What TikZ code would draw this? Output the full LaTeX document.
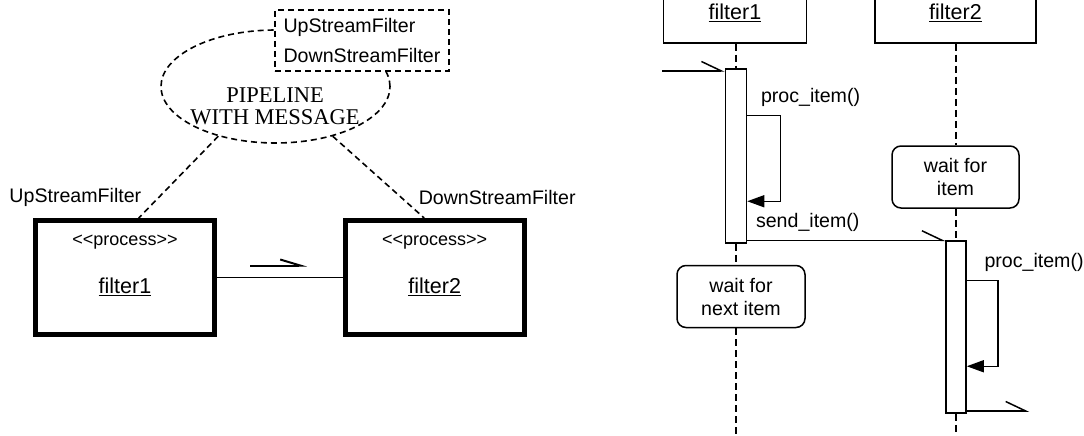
\documentclass[tikz,border=0pt]{standalone}
\usepackage{fontspec}
\setmainfont{Liberation Sans}
\newfontfamily\romanface{Liberation Serif}
\usetikzlibrary{positioning, calc, arrows.meta, shapes.geometric}

\newcommand\stereotype[1]{<\kern0pt<#1>\kern0pt>}

\tikzset{
  txt/.style={inner sep=0pt, font=\fontsize{19.6}{23}\selectfont},
  stereo/.style={inner sep=0pt, font=\fontsize{18}{20}\selectfont},
  objname/.style={inner sep=0pt, font=\fontsize{21.5}{24}\selectfont},
  dashline/.style={dash pattern=on 6pt off 4pt, line width=1.6pt},
  pipeline/.style={ellipse, draw, dashline, minimum width=229pt, minimum height=113pt},
  tagbox/.style={draw, dashline, fill=white, align=left, minimum width=174pt,
    minimum height=61pt, inner sep=0pt, font=\fontsize{19.6}{30}\selectfont},
  proc/.style={draw, line width=5pt, minimum width=179pt, minimum height=114pt},
  head/.style={draw, fill=white, minimum width=143pt, minimum height=60pt, objname},
  bar/.style={draw, fill=white, minimum width=21pt, minimum height=174pt, inner sep=0pt},
  waitbox/.style={draw, rounded corners=9pt, fill=white, align=center,
    minimum width=127pt, minimum height=62pt, txt},
  lifeline/.style={dash pattern=on 7pt off 4pt},
  msg/.style={-{Straight Barb[left, length=20pt, width=19pt]}},
  selfcall/.style={-{Triangle[length=17pt, width=12pt]}}
}

\begin{document}
\begin{tikzpicture}[x=1pt, y=-1pt, line width=1.5pt]
  \useasboundingbox (0,0) rectangle (1084,436);

  % collaboration
  \node[pipeline] (pipe) at (275.5,86.5) {};
  \node[align=center, inner sep=0pt, font=\romanface\fontsize{22.5}{22}\selectfont]
    (pipetxt) at (275,106) {PIPELINE\\WITH MESSAGE};
  \node[tagbox] (tags) at (362,40.5) {UpStreamFilter\\DownStreamFilter};

  \node[proc] (f1) at (125,277.5) {};
  \node[proc] (f2) at (434.7,277.5) {};
  \node[stereo] (st1) at ($(f1)+(0,-35.5)$) {\stereotype{process}};
  \node[stereo] (st2) at ($(f2)+(0,-35.5)$) {\stereotype{process}};
  \node[objname] (n1) at ($(f1)+(0,9.5)$) {\underline{filter1}};
  \node[objname] (n2) at ($(f2)+(0,9.5)$) {\underline{filter2}};

  \node[txt, anchor=east] (up) at (142,197) {UpStreamFilter};
  \node[txt, anchor=west] (down) at (418,197) {DownStreamFilter};

  \draw[dashline] (pipe.221) -- (f1.77);
  \draw[dashline] (pipe.319) -- (f2.100);
  \draw (f1) -- (f2);

  \coordinate (dirs) at (250,265.5);
  \coordinate (dire) at (307,265.5);
  \draw[line width=2pt, -{Straight Barb[left, length=20pt, width=12pt]}] (dirs) -- (dire);

  % sequence
  \node[head] (h1) at (735,13) {\underline{filter1}};
  \node[head, minimum width=161pt] (h2) at (955.5,13) {\underline{filter2}};
  \node[bar] (a1) at (736,156) {};
  \node[bar, minimum width=20pt, minimum height=172pt] (a2) at (956,327) {};
  \node[waitbox] (w2) at (955.5,177) {wait for\\item};
  \node[waitbox, minimum width=128pt] (w1) at (741,296.5) {wait for\\next item};

  \coordinate (e1) at (736,436);
  \coordinate (e2) at (956,436);
  \draw[lifeline] (a1 |- h1.south) -- (a1.north);
  \draw[lifeline] (a1.south) -- (a1 |- w1.north);
  \draw[lifeline] (a1 |- w1.south) -- (e1);
  \draw[lifeline] (a2 |- h2.south) -- (a2 |- w2.north);
  \draw[lifeline] (a2 |- w2.south) -- (a2.north);
  \draw[lifeline] (a2.south) -- (e2);

  \coordinate (in1) at (662,71);
  \coordinate (out2) at (1029,411);
  \draw[msg] (in1) -- (in1 -| a1.west);
  \draw[msg] (a1.east |- a2.north) -- (a2.north west);
  \draw[msg] (a2.east |- out2) -- (out2);

  \draw[selfcall] ($(a1.north east)+(0,47)$) -- ++(33,0) -- ++(0,86)
    -- ($(a1.north east)+(0,133)$);
  \draw[selfcall] ($(a2.north east)+(0,40)$) -- ++(31,0) -- ++(0,86)
    -- ($(a2.north east)+(0,126)$);
  \node[txt, anchor=west] (c1) at ($(a1.north east)+(13,29)$) {proc\_item()};
  \node[txt, anchor=west] (c2) at ($(a2.north east)+(17,22)$) {proc\_item()};
  \node[txt, anchor=west] (snd) at ($(a1.east |- a2.north)+(8,-18)$) {send\_item()};
\end{tikzpicture}
\end{document}
